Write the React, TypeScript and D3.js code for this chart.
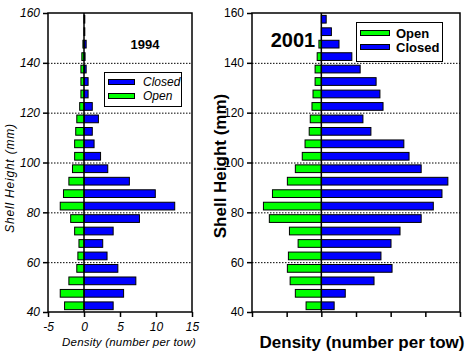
import { useEffect, useRef } from 'react'
import * as d3 from 'd3'

// bin lower edges (mm), 5 mm bins
const bins = d3.range(40, 160, 5)

// 1994 densities (number per tow), Open shown to the left of zero
const closed1994 = [4.05, 5.5, 7.2, 4.7, 3.2, 2.6, 4.05, 7.7, 12.6, 9.9, 6.3, 3.3, 2.3, 1.4, 1.15, 2.0, 1.15, 0.57, 0.57, 0.3, 0.15, 0.3, 0.06, 0.06]
const open1994 = [2.7, 3.3, 2.1, 1.0, 0.85, 0.7, 1.3, 1.85, 3.3, 2.85, 2.1, 1.6, 1.3, 1.3, 1.15, 1.0, 0.6, 0.43, 0.43, 0.43, 0.3, 0.15, 0, 0]

// 2001 densities
const closed2001 = [3.7, 6.9, 15.2, 20.4, 17.2, 20.1, 22.7, 28.8, 32.3, 34.8, 36.5, 28.8, 25.3, 23.8, 14.3, 12.0, 17.8, 16.9, 15.8, 11.2, 8.8, 5.1, 2.9, 1.4]
const open2001 = [4.4, 7.5, 9.0, 9.8, 9.5, 6.7, 9.2, 15.0, 16.7, 14.1, 9.8, 7.5, 5.5, 4.7, 3.5, 3.2, 2.7, 2.4, 1.8, 1.8, 1.2, 0.7, 0, 0]

const yTicks = [40, 60, 80, 100, 120, 140, 160]
const gridTicks = [60, 80, 100, 120, 140]
const xTicks1994 = [-5, 0, 5, 10, 15]
const xTicks2001 = [-20, -10, 0, 10, 20, 30, 40]

const BLUE = '#0000ff'
const GREEN = '#00ff00'
const FONT = '"Liberation Sans", Arial, sans-serif'

export default function App() {
  const svgRef = useRef<SVGSVGElement>(null)

  useEffect(() => {
    const svg = d3.select(svgRef.current)
    svg.selectAll('*').remove()

    const drawPanel = (opts: any) => {
      const { x0, x1, y0, y1, xDomain, xTicks, closed, open, italic, showXLabels } = opts
      const g = svg.append('g')
      const x = d3.scaleLinear().domain(xDomain).range([x0, x1])
      const y = d3.scaleLinear().domain([40, 160]).range([y1, y0])
      const bh = (y(40) - y(45)) * 0.62

      // grid
      g.selectAll('line.grid')
        .data(gridTicks)
        .join('line')
        .attr('x1', x0).attr('x2', x1)
        .attr('y1', (d) => y(d) + 0.5).attr('y2', (d) => y(d) + 0.5)
        .attr('stroke', '#000').attr('stroke-width', 1)
        .attr('stroke-dasharray', '1.5,1.5')

      // bars
      const data = bins.map((b, i) => ({ b, c: closed[i], o: open[i] }))
      g.selectAll('rect.closed')
        .data(data)
        .join('rect')
        .attr('x', x(0))
        .attr('y', (d) => y(d.b + 2.5) - bh / 2)
        .attr('width', (d) => Math.max(0.8, x(d.c) - x(0)))
        .attr('height', bh)
        .attr('fill', BLUE).attr('stroke', '#000').attr('stroke-width', 1)
      g.selectAll('rect.open')
        .data(data.filter((d) => d.o > 0))
        .join('rect')
        .attr('x', (d) => x(-d.o))
        .attr('y', (d) => y(d.b + 2.5) - bh / 2)
        .attr('width', (d) => x(0) - x(-d.o))
        .attr('height', bh)
        .attr('fill', GREEN).attr('stroke', '#000').attr('stroke-width', 1)

      // zero line
      g.append('line')
        .attr('x1', x(0)).attr('x2', x(0))
        .attr('y1', y0).attr('y2', y1)
        .attr('stroke', '#000').attr('stroke-width', 1.5)

      // frame
      g.append('rect')
        .attr('x', x0).attr('y', y0)
        .attr('width', x1 - x0).attr('height', y1 - y0)
        .attr('fill', 'none').attr('stroke', '#000').attr('stroke-width', 1.5)

      // y axis
      g.append('g')
        .attr('transform', `translate(${x0},0)`)
        .call(d3.axisLeft(y).tickValues(yTicks).tickSize(5).tickPadding(3))
        .call((ax) => ax.select('.domain').remove())
        .call((ax) => ax.selectAll('.tick line').attr('stroke-width', 1.5))
        .call((ax) => ax.selectAll('text')
          .attr('font-family', FONT).attr('font-size', 12)
          .attr('font-style', italic ? 'italic' : 'normal').attr('fill', '#000'))

      // x axis
      g.append('g')
        .attr('transform', `translate(0,${y1})`)
        .call(d3.axisBottom(x).tickValues(xTicks).tickSize(5).tickPadding(5)
          .tickFormat((d) => (showXLabels ? String(d) : '')))
        .call((ax) => ax.select('.domain').remove())
        .call((ax) => ax.selectAll('.tick line').attr('stroke-width', 1.5))
        .call((ax) => ax.selectAll('text')
          .attr('font-family', FONT).attr('font-size', 12)
          .attr('font-style', 'italic').attr('fill', '#000'))

      return { x, y }
    }

    // 1994
    drawPanel({
      x0: 48, x1: 192, y0: 13, y1: 312,
      xDomain: [-5, 15], xTicks: xTicks1994,
      closed: closed1994, open: open1994, italic: true, showXLabels: true,
    })
    svg.append('text')
      .attr('x', 145).attr('y', 49).attr('text-anchor', 'middle')
      .attr('font-family', FONT).attr('font-weight', 'bold').attr('font-size', 13)
      .text('1994')
    svg.append('text')
      .attr('transform', 'translate(14,178) rotate(-90)')
      .attr('text-anchor', 'middle')
      .attr('font-family', FONT).attr('font-style', 'italic').attr('font-size', 12)
      .attr('letter-spacing', 0.8)
      .text('Shell Height (mm)')
    svg.append('text')
      .attr('x', 129).attr('y', 346).attr('text-anchor', 'middle')
      .attr('font-family', FONT).attr('font-style', 'italic').attr('font-size', 11.5)
      .attr('letter-spacing', 0.2)
      .text('Density (number per tow)')

    const leg1 = svg.append('g')
    leg1.append('rect').attr('x', 104.5).attr('y', 72.5).attr('width', 77).attr('height', 34)
      .attr('fill', '#fff').attr('stroke', '#000')
    ;[{ label: 'Closed', color: BLUE, yy: 82 }, { label: 'Open', color: GREEN, yy: 96 }].forEach((e) => {
      leg1.append('rect').attr('x', 108.5).attr('y', e.yy - 2.5).attr('width', 26).attr('height', 5)
        .attr('fill', e.color).attr('stroke', '#000')
      leg1.append('text').attr('x', 143).attr('y', e.yy + 4)
        .attr('font-family', FONT).attr('font-style', 'italic').attr('font-size', 12)
        .text(e.label)
    })

    // 2001
    drawPanel({
      x0: 252, x1: 460, y0: 13, y1: 312,
      xDomain: [-20, 40], xTicks: xTicks2001,
      closed: closed2001, open: open2001, italic: false, showXLabels: false,
    })
    svg.append('text')
      .attr('x', 293).attr('y', 47).attr('text-anchor', 'middle')
      .attr('font-family', FONT).attr('font-weight', 'bold').attr('font-size', 20)
      .text('2001')
    svg.append('text')
      .attr('transform', 'translate(226,166) rotate(-90)')
      .attr('text-anchor', 'middle')
      .attr('font-family', FONT).attr('font-weight', 'bold').attr('font-size', 17)
      .text('Shell Height (mm)')
    svg.append('text')
      .attr('x', 362).attr('y', 348).attr('text-anchor', 'middle')
      .attr('font-family', FONT).attr('font-weight', 'bold').attr('font-size', 17)
      .text('Density (number per tow)')

    const leg2 = svg.append('g')
    leg2.append('rect').attr('x', 356.5).attr('y', 22.5).attr('width', 86).attr('height', 39)
      .attr('fill', '#fff').attr('stroke', '#000')
    ;[{ label: 'Open', color: GREEN, yy: 33 }, { label: 'Closed', color: BLUE, yy: 47 }].forEach((e) => {
      leg2.append('rect').attr('x', 360.5).attr('y', e.yy - 2.5).attr('width', 29).attr('height', 5)
        .attr('fill', e.color).attr('stroke', '#000')
      leg2.append('text').attr('x', 396).attr('y', e.yy + 5)
        .attr('font-family', FONT).attr('font-weight', 'bold').attr('font-size', 13)
        .text(e.label)
    })
  }, [])

  return (
    <svg
      ref={svgRef}
      width={472}
      height={351}
      style={{ position: 'absolute', left: 0, top: 0, background: '#fff' }}
    />
  )
}
